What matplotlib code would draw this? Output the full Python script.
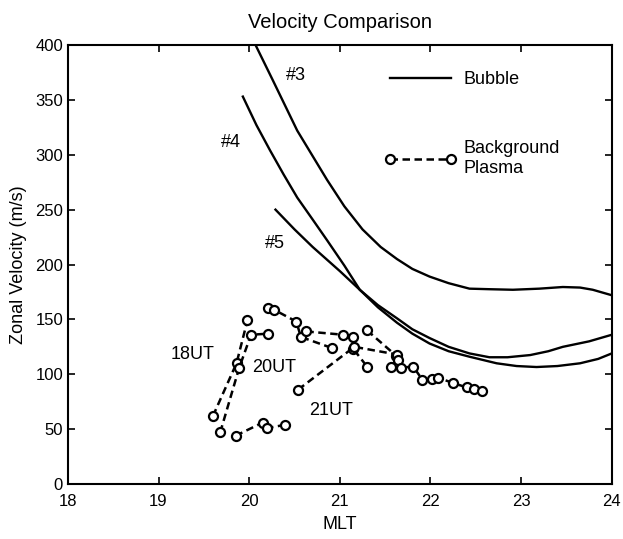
import matplotlib.pyplot as plt
import numpy as np

plt.rcParams['font.family'] = ['Liberation Sans', 'DejaVu Sans']

nan = np.nan

# bubble velocities (solid curves)
b3_mlt = [20.07, 20.26, 20.53, 20.86, 21.05, 21.25, 21.45, 21.63, 21.8, 21.99, 22.2, 22.43,
          22.65, 22.91, 23.2, 23.46, 23.65, 23.79, 24.0]
b3_v = [400, 368, 322, 277, 253, 232, 216, 205, 196, 189, 183, 178,
        177.5, 177, 178, 179.5, 179, 177, 172]
b4_mlt = [19.93, 20.08, 20.23, 20.38, 20.53, 20.7, 20.86, 21.05, 21.22, 21.42, 21.63, 21.8,
          21.99, 22.2, 22.43, 22.73, 22.95, 23.17, 23.4, 23.65, 23.85, 24.0]
b4_v = [353, 327, 304, 282, 261, 241, 222, 199, 177, 161, 147, 137,
        128, 121, 116, 110, 107.5, 106.6, 107.5, 110, 114, 119]
b5_mlt = [20.29, 20.5, 20.70, 20.85, 21.0, 21.22, 21.42, 21.63, 21.8, 21.99, 22.2, 22.43,
          22.65, 22.85, 23.1, 23.3, 23.46, 23.75, 24.0]
b5_v = [250, 232, 216, 205, 194, 177, 163, 151, 141, 133, 125, 119,
        115.5, 115.5, 117.5, 121, 125, 130, 136]

# background plasma (dashed with open circles)
ut18_mlt = [19.60, 19.86, 19.98, nan, 20.21, 20.27, 20.52, 20.57, 20.91, nan, 21.30, 21.62]
ut18_v = [62, 110, 149, nan, 160, 159, 148, 134, 124, nan, 140, 117]
ut20_mlt = [19.68, 19.89, 20.02, 20.21, nan, 20.63, 21.04, 21.14, 21.15, 21.30]
ut20_v = [47, 106, 136, 137, nan, 139, 136, 134, 123, 107]
ut21_mlt = [19.85, 20.15, 20.20, 20.40, nan, 20.54, 21.16, 21.63, 21.64, 21.56, 21.67,
            21.81, 21.91, 22.02, 22.08, 22.25, 22.40, 22.48, 22.57]
ut21_v = [44, 56, 51, 54, nan, 86, 125, 118, 113, 107, 106,
          107, 95, 96, 97, 92, 88, 87, 85]

fig = plt.figure(figsize=(6.23, 5.39), dpi=100)
ax = fig.add_axes([0.109, 0.102, 0.873, 0.8145])

ax.plot(b3_mlt, b3_v, 'k-', lw=1.7, label='Bubble')
ax.plot(b4_mlt, b4_v, 'k-', lw=1.7)
ax.plot(b5_mlt, b5_v, 'k-', lw=1.7)

mk = dict(color='k', ls='--', lw=1.8, marker='o', ms=6.5, mfc='white', mec='k', mew=1.6,
          dashes=(3, 1.8))
ax.plot(ut18_mlt, ut18_v, label='Background\nPlasma', **mk)
ax.plot(ut20_mlt, ut20_v, **mk)
ax.plot(ut21_mlt, ut21_v, **mk)

ax.text(20.52, 372, '#3', fontsize=13, ha='center', va='center')
ax.text(19.80, 311, '#4', fontsize=13, ha='center', va='center')
ax.text(20.28, 219, '#5', fontsize=13, ha='center', va='center')
ax.text(19.38, 118, '18UT', fontsize=13, ha='center', va='center')
ax.text(20.28, 106, '20UT', fontsize=13, ha='center', va='center')
ax.text(20.90, 67, '21UT', fontsize=13, ha='center', va='center')

ax.set_xlim(18, 24)
ax.set_ylim(0, 400)
ax.set_xticks(range(18, 25))
ax.set_yticks(range(0, 401, 50))
ax.tick_params(direction='in', top=True, right=True, labelsize=12, length=5, width=1.2)
ax.tick_params(axis='x', pad=7)
for s in ax.spines.values():
    s.set_linewidth(1.5)

ax.set_title('Velocity Comparison', fontsize=14.5, pad=12)
ax.set_xlabel('MLT', fontsize=13, labelpad=5)
ax.set_ylabel('Zonal Velocity (m/s)', fontsize=13, labelpad=6)

ax.legend(loc='upper right', bbox_to_anchor=(0.935, 0.978), frameon=False, fontsize=13,
          handlelength=4.0, numpoints=2, labelspacing=2.9, handletextpad=0.4)

plt.savefig('out.png', dpi=100)
